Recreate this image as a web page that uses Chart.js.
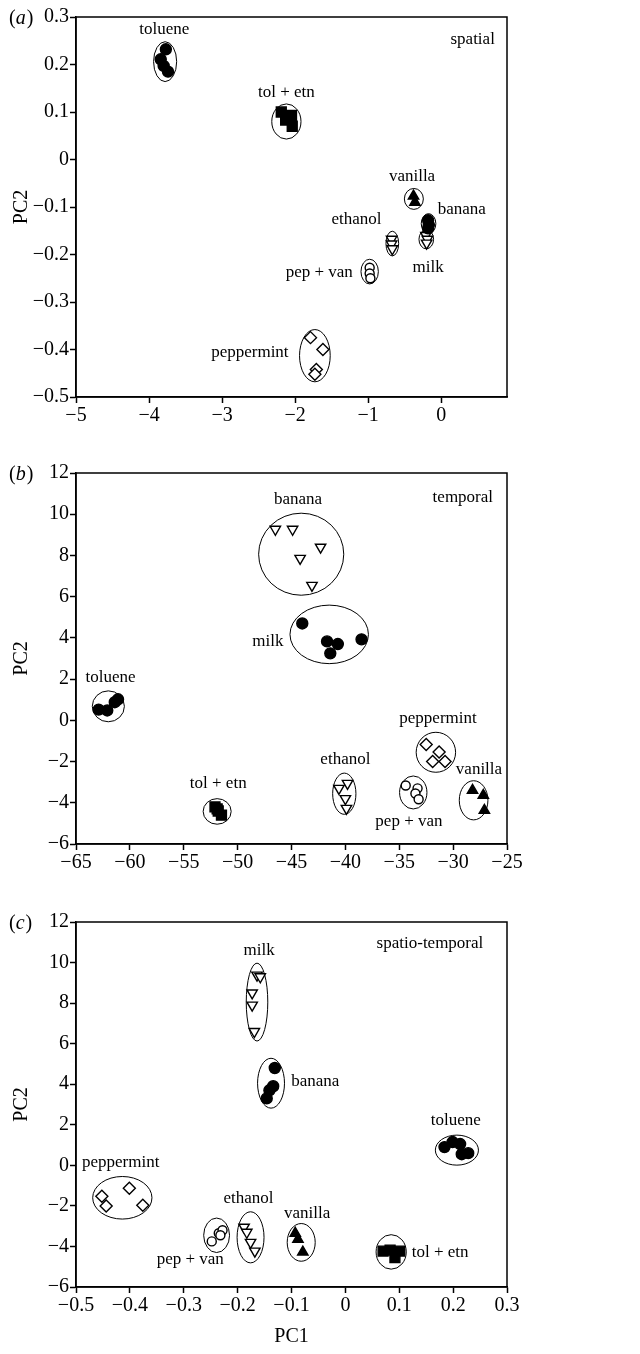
<!DOCTYPE html>
<html>
<head>
<meta charset="utf-8">
<script src="https://cdn.jsdelivr.net/npm/chart.js@4.4.1/dist/chart.umd.min.js"></script>
<style>
  body { margin: 0; background: #fff; width: 640px; height: 1354px; position: relative; overflow: hidden; }
  canvas { position: absolute; left: 0; }
</style>
</head>
<body>
<canvas id="chartA" width="640" height="440" style="top:0"></canvas>
<canvas id="chartB" width="640" height="440" style="top:440px"></canvas>
<canvas id="chartC" width="640" height="474" style="top:880px"></canvas>
<script>
// ---- (a) spatial ----
const spatialGroups = ['toluene', 'tol + etn', 'vanilla', 'banana', 'milk', 'ethanol', 'pep + van', 'peppermint'];
const spatialMarkers = ['dot', 'square', 'tri', 'dot', 'vtri', 'vtri', 'ring', 'diamond'];
const spatialPC1 = [
    [-3.77, -3.84, -3.80, -3.74],
    [-2.19, -2.13, -2.10, -2.05, -2.04],
    [-0.38, -0.36],
    [-0.18, -0.17, -0.18],
    [-0.21, -0.19, -0.20],
    [-0.68, -0.68, -0.67],
    [-0.98, -0.98, -0.97],
    [-1.79, -1.62, -1.71, -1.73]
];
const spatialPC2 = [
    [0.232, 0.211, 0.197, 0.185],
    [0.100, 0.083, 0.090, 0.093, 0.070],
    [-0.077, -0.090],
    [-0.128, -0.138, -0.145],
    [-0.160, -0.168, -0.176],
    [-0.168, -0.178, -0.188],
    [-0.228, -0.240, -0.250],
    [-0.375, -0.400, -0.442, -0.452]
];
// cluster rings: centre x, centre y, half width, half height
const spatialRings = [
    [-3.78, 0.206, 0.158, 0.042],
    [-2.12, 0.080, 0.20, 0.037],
    [-0.375, -0.083, 0.13, 0.022],
    [-0.174, -0.135, 0.10, 0.021],
    [-0.205, -0.168, 0.10, 0.020],
    [-0.67, -0.177, 0.087, 0.026],
    [-0.98, -0.236, 0.119, 0.026],
    [-1.73, -0.413, 0.21, 0.055]
];
const spatialNamePos = [[-3.79, 0.274], [-2.12, 0.14], [-0.40, -0.035], [0.28, -0.105], [-0.18, -0.228], [-1.16, -0.126], [-1.67, -0.238], [-2.62, -0.406]];
const spatialXTicks = [-5, -4, -3, -2, -1, 0];
const spatialYTicks = [-0.5, -0.4, -0.3, -0.2, -0.1, 0, 0.1, 0.2, 0.3];

// ---- (b) temporal ----
const temporalGroups = ['banana', 'milk', 'toluene', 'tol + etn', 'ethanol', 'pep + van', 'peppermint', 'vanilla'];
const temporalMarkers = ['vtri', 'dot', 'dot', 'square', 'vtri', 'ring', 'diamond', 'tri'];
const temporalPC1 = [
    [-46.5, -44.9, -42.3, -44.2, -43.1],
    [-44.0, -41.7, -40.7, -41.4, -38.5],
    [-62.9, -62.1, -61.4, -61.1],
    [-52.1, -51.8, -51.5, -51.9],
    [-40.6, -39.8, -40.0, -39.9],
    [-34.4, -33.3, -33.5, -33.2],
    [-32.5, -31.3, -31.9, -30.75],
    [-28.2, -27.2, -27.1]
];
const temporalPC2 = [
    [9.27, 9.27, 8.4, 7.86, 6.55],
    [4.7, 3.83, 3.7, 3.25, 3.93],
    [0.52, 0.48, 0.88, 1.02],
    [-4.2, -4.4, -4.6, -4.3],
    [-3.3, -3.06, -3.8, -4.27],
    [-3.16, -3.3, -3.55, -3.83],
    [-1.17, -1.54, -2.0, -2.0],
    [-3.4, -3.64, -4.37]
];
const temporalRings = [
    [-44.1, 8.06, 3.95, 1.99],
    [-41.5, 4.17, 3.64, 1.42],
    [-62.0, 0.68, 1.49, 0.75],
    [-51.9, -4.42, 1.3, 0.62],
    [-40.1, -3.56, 1.08, 1.0],
    [-33.7, -3.5, 1.27, 0.8],
    [-31.6, -1.55, 1.83, 0.97],
    [-28.1, -3.88, 1.33, 0.95]
];
const temporalNamePos = [[-44.4, 10.7], [-47.2, 3.83], [-61.8, 2.1], [-51.8, -3.06], [-40.0, -1.9], [-34.1, -4.9], [-31.4, 0.1], [-27.6, -2.38]];
const temporalXTicks = [-65, -60, -55, -50, -45, -40, -35, -30, -25];
const pc2Ticks = [-6, -4, -2, 0, 2, 4, 6, 8, 10, 12];

// ---- (c) spatio-temporal ----
const stGroups = ['milk', 'banana', 'toluene', 'peppermint', 'pep + van', 'ethanol', 'vanilla', 'tol + etn'];
const stMarkers = ['vtri', 'dot', 'dot', 'diamond', 'ring', 'vtri', 'tri', 'square'];
const stPC1 = [
    [-0.164, -0.158, -0.173, -0.173, -0.169],
    [-0.131, -0.134, -0.141, -0.146],
    [0.184, 0.199, 0.213, 0.216, 0.228],
    [-0.452, -0.444, -0.401, -0.376],
    [-0.248, -0.235, -0.228, -0.232],
    [-0.188, -0.183, -0.176, -0.168],
    [-0.093, -0.088, -0.079],
    [0.070, 0.083, 0.092, 0.101]
];
const stPC2 = [
    [9.38, 9.3, 8.5, 7.9, 6.6],
    [4.8, 3.9, 3.7, 3.3],
    [0.9, 1.15, 1.05, 0.55, 0.6],
    [-1.52, -2.0, -1.13, -1.97],
    [-3.75, -3.35, -3.2, -3.45],
    [-3.05, -3.3, -3.8, -4.23],
    [-3.35, -3.65, -4.28],
    [-4.23, -4.18, -4.55, -4.23]
];
const stRings = [
    [-0.164, 8.05, 0.02, 1.92],
    [-0.138, 4.05, 0.025, 1.23],
    [0.207, 0.75, 0.04, 0.74],
    [-0.414, -1.6, 0.055, 1.05],
    [-0.239, -3.45, 0.024, 0.85],
    [-0.176, -3.55, 0.025, 1.26],
    [-0.082, -3.8, 0.026, 0.93],
    [0.085, -4.27, 0.028, 0.85]
];
const stNamePos = [[-0.16, 10.6], [-0.056, 4.15], [0.205, 2.23], [-0.417, 0.16], [-0.288, -4.63], [-0.18, -1.66], [-0.071, -2.39], [0.176, -4.32]];
const stXTicks = [-0.5, -0.4, -0.3, -0.2, -0.1, 0, 0.1, 0.2, 0.3];

const SERIF = '"Liberation Serif", "Times New Roman", serif';
const INK = '#000';
Chart.defaults.font.family = SERIF;
Chart.defaults.color = INK;

// marker looks
const markerStyles = {
    dot:     { pointStyle: 'circle', radius: 5.5, fill: INK },
    square:  { pointStyle: 'rect', radius: 7, fill: INK },
    tri:     { pointStyle: 'triangle', radius: 6, fill: INK },
    vtri:    { pointStyle: 'triangle', radius: 6, fill: '#fff', rotation: 180 },
    ring:    { pointStyle: 'circle', radius: 4.5, fill: '#fff' },
    diamond: { pointStyle: 'rectRot', radius: 6, fill: '#fff' }
};

function fmt(v) {
    return String(Math.round(v * 100) / 100).replace('-', '\u2212');
}

function makeChart(id, p) {
    const canvas = document.getElementById(id);
    const H = canvas.height;

    const datasets = p.groups.map((g, i) => {
        const m = markerStyles[p.markers[i]];
        return {
            label: g,
            data: p.xs[i].map((v, j) => ({ x: v, y: p.ys[i][j] })),
            pointStyle: m.pointStyle,
            pointRadius: m.radius,
            pointRotation: m.rotation || 0,
            backgroundColor: m.fill,
            borderColor: INK,
            borderWidth: 1.4
        };
    });

    const ringsAndNames = {
        id: 'rings_' + id,
        beforeDatasetsDraw(chart) {
            const { ctx, scales: { x, y } } = chart;
            ctx.save();
            ctx.strokeStyle = INK;
            ctx.lineWidth = 1;
            p.rings.forEach(([cx, cy, rx, ry]) => {
                const px = x.getPixelForValue(cx), py = y.getPixelForValue(cy);
                const w = Math.abs(x.getPixelForValue(cx + rx) - px);
                const h = Math.abs(y.getPixelForValue(cy + ry) - py);
                ctx.beginPath();
                ctx.ellipse(px, py, w, h, 0, 0, Math.PI * 2);
                ctx.stroke();
            });
            ctx.restore();
        },
        afterDatasetsDraw(chart) {
            const { ctx, chartArea, scales: { x, y } } = chart;
            ctx.save();
            ctx.fillStyle = INK;
            ctx.font = '17px ' + SERIF;
            ctx.textAlign = 'center';
            ctx.textBaseline = 'middle';
            p.groups.forEach((g, i) => {
                ctx.fillText(g, x.getPixelForValue(p.namePos[i][0]), y.getPixelForValue(p.namePos[i][1]));
            });
            ctx.fillText(p.caption, x.getPixelForValue(p.captionPos[0]), y.getPixelForValue(p.captionPos[1]));

            // box round the plot
            ctx.strokeStyle = INK;
            ctx.lineWidth = 1.5;
            ctx.strokeRect(chartArea.left, chartArea.top, chartArea.width, chartArea.height);

            // panel letter, e.g. (a)
            ctx.textAlign = 'left';
            const ly = chartArea.top + 2;
            ctx.font = '20px ' + SERIF;
            let tx = 9;
            ctx.fillText('(', tx, ly);
            tx += ctx.measureText('(').width;
            ctx.font = 'italic 20px ' + SERIF;
            ctx.fillText(p.letter, tx, ly);
            tx += ctx.measureText(p.letter).width + 1;
            ctx.font = '20px ' + SERIF;
            ctx.fillText(')', tx, ly);
            ctx.restore();
        }
    };

    const axisLine = { display: true, color: INK, width: 1.5 };
    const tickGrid = { drawOnChartArea: false, drawTicks: true, tickLength: 6, tickColor: INK, tickWidth: 1.5 };

    return new Chart(canvas, {
        type: 'scatter',
        data: { datasets },
        options: {
            responsive: false,
            animation: false,
            layout: { padding: { left: 0, top: p.top, right: 133, bottom: 0 } },
            plugins: { legend: { display: false }, tooltip: { enabled: false } },
            scales: {
                x: {
                    type: 'linear',
                    min: p.xMin,
                    max: p.xMax,
                    afterBuildTicks: s => { s.ticks = p.xTicks.map(v => ({ value: v })); },
                    afterFit: s => { s.height = H - p.bottom; },
                    border: axisLine,
                    grid: tickGrid,
                    ticks: { font: { size: 20 }, color: INK, padding: 1, maxRotation: 0, autoSkip: false, callback: fmt },
                    title: { display: !!p.xTitle, text: p.xTitle || '', font: { size: 20 }, color: INK, padding: { top: 0, bottom: 5 } }
                },
                y: {
                    type: 'linear',
                    min: p.yMin,
                    max: p.yMax,
                    afterBuildTicks: s => { s.ticks = p.yTicks.map(v => ({ value: v })); },
                    afterFit: s => { s.width = 76; },
                    border: axisLine,
                    grid: tickGrid,
                    ticks: { font: { size: 20 }, color: INK, padding: 1, autoSkip: false, callback: fmt },
                    title: { display: true, text: 'PC2', font: { size: 20 }, color: INK, padding: { top: 10, bottom: 0 } }
                }
            }
        },
        plugins: [ringsAndNames]
    });
}

makeChart('chartA', {
    groups: spatialGroups, markers: spatialMarkers, xs: spatialPC1, ys: spatialPC2,
    rings: spatialRings, namePos: spatialNamePos, caption: 'spatial', captionPos: [0.43, 0.252],
    xMin: -5, xMax: 0.9, yMin: -0.5, yMax: 0.3, xTicks: spatialXTicks, yTicks: spatialYTicks,
    top: 17, bottom: 397, letter: 'a'
});

makeChart('chartB', {
    groups: temporalGroups, markers: temporalMarkers, xs: temporalPC1, ys: temporalPC2,
    rings: temporalRings, namePos: temporalNamePos, caption: 'temporal', captionPos: [-29.1, 10.8],
    xMin: -65, xMax: -25, yMin: -6, yMax: 12, xTicks: temporalXTicks, yTicks: pc2Ticks,
    top: 33, bottom: 404, letter: 'b'
});

makeChart('chartC', {
    groups: stGroups, markers: stMarkers, xs: stPC1, ys: stPC2,
    rings: stRings, namePos: stNamePos, caption: 'spatio-temporal', captionPos: [0.157, 10.96],
    xMin: -0.5, xMax: 0.3, yMin: -6, yMax: 12, xTicks: stXTicks, yTicks: pc2Ticks,
    top: 42, bottom: 407, letter: 'c', xTitle: 'PC1'
});
</script>
</body>
</html>
